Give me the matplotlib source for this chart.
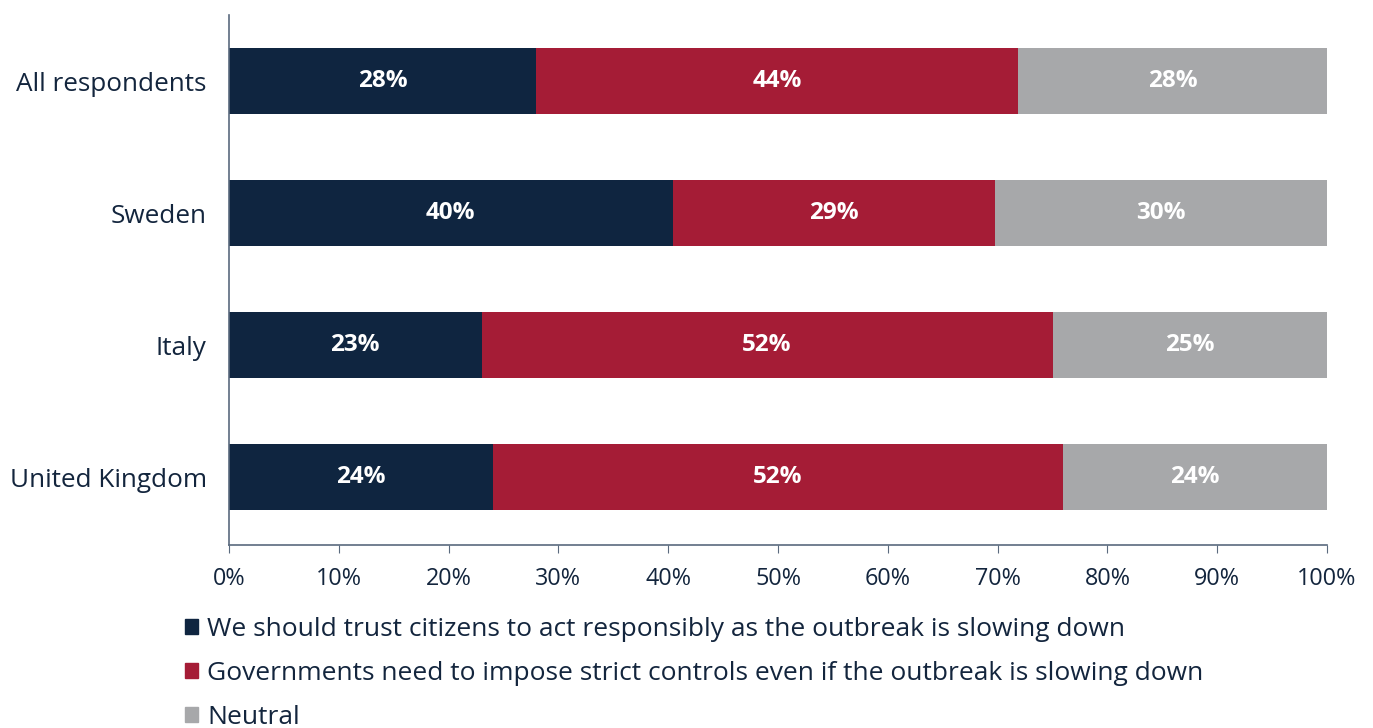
import numpy as np
import matplotlib.pyplot as plt
from matplotlib.patches import Patch

plt.rcParams['font.family'] = ['Open Sans', 'DejaVu Sans']

categories = ["All respondents", "Sweden", "Italy", "United Kingdom"]
trust = [28, 40.4, 23, 24]
strict = [43.9, 29.4, 52, 52]
neutral = [28.1, 30.2, 25, 24]
trust_labels = ["28%", "40%", "23%", "24%"]
strict_labels = ["44%", "29%", "52%", "52%"]
neutral_labels = ["28%", "30%", "25%", "24%"]
series_names = [
    "We should trust citizens to act responsibly as the outbreak is slowing down",
    "Governments need to impose strict controls even if the outbreak is slowing down",
    "Neutral",
]

navy = "#0f2540"
red = "#a51c36"
grey = "#a7a8aa"
text_col = "#13253d"

fig = plt.figure(figsize=(13.73, 7.28), dpi=100)
ax = fig.add_axes([0.1668, 0.251, 0.7997, 0.728])

y = np.arange(len(categories))
left = np.zeros(len(categories))
for vals, labs, col in [(trust, trust_labels, navy), (strict, strict_labels, red),
                        (neutral, neutral_labels, grey)]:
    bars = ax.barh(y, vals, left=left, height=0.5, color=col, edgecolor="none")
    ax.bar_label(bars, labels=labs, label_type="center", color="white",
                 fontsize=17.5, fontweight="bold")
    left = left + np.array(vals)

ax.set_xlim(0, 100)
ax.set_ylim(3.515, -0.5)
ax.set_xticks(np.arange(0, 101, 10))
ax.set_xticklabels([f"{v}%" for v in range(0, 101, 10)])
ax.set_yticks(y)
ax.set_yticklabels(categories)
ax.tick_params(axis="x", colors="#5a6a7e", labelcolor=text_col, labelsize=16.8,
               length=6, pad=10)
ax.tick_params(axis="y", length=0, labelcolor=text_col, labelsize=18.8, pad=16)
for s in ["top", "right"]:
    ax.spines[s].set_visible(False)
for s in ["left", "bottom"]:
    ax.spines[s].set_color("#5a6a7e")
    ax.spines[s].set_linewidth(1.2)

handles = [Patch(color=c) for c in (navy, red, grey)]
leg = fig.legend(handles, series_names, loc="upper left",
                 bbox_to_anchor=(0.1346, 0.152), frameon=False, fontsize=19,
                 handlelength=0.5, handleheight=0.5, handletextpad=0.35,
                 labelspacing=0.72, borderpad=0, borderaxespad=0)
for t in leg.get_texts():
    t.set_color(text_col)

fig.savefig("out.png", dpi=100)
